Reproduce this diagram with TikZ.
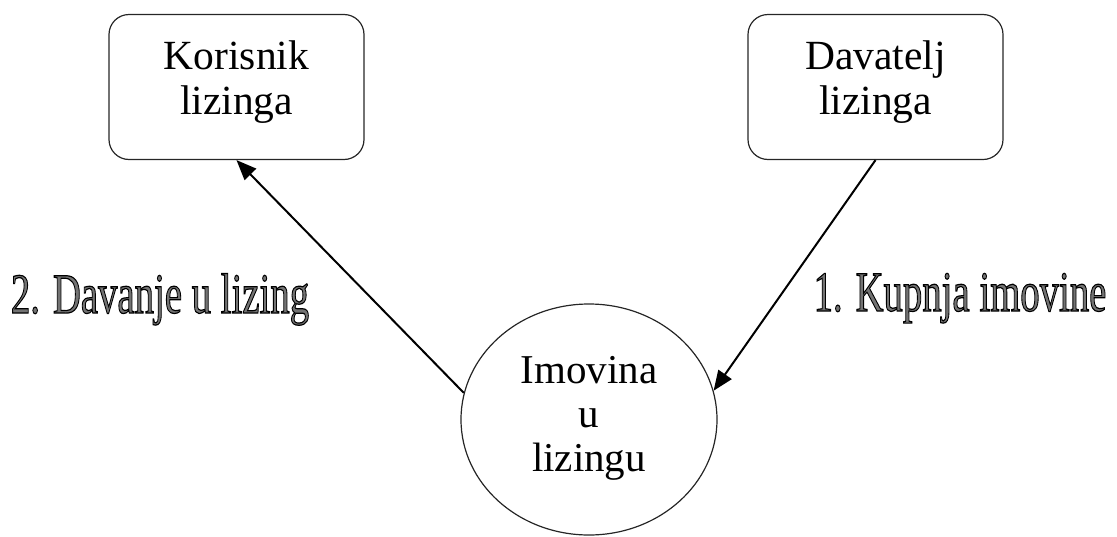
\documentclass[tikz,border=0pt]{standalone}
\usepackage{fontspec}
\setmainfont{Liberation Serif}
\usetikzlibrary{arrows.meta,shapes.geometric}
\newcommand\outlinedtext[1]{{\color[gray]{0.45}\special{pdf:code q 2 Tr 1.2 w 0 G}#1\special{pdf:code Q}}}
\tikzset{
  boxnode/.style={draw=black!85, line width=1.2pt, rounded corners=20pt, minimum width=255pt, minimum height=145pt, align=center, font=\fontsize{41.5}{45}\selectfont, text depth=18pt},
  ellnode/.style={draw=black!85, line width=1.2pt, ellipse, inner sep=0pt, minimum width=256pt, minimum height=231pt, align=center, font=\fontsize{41}{44}\selectfont, text depth=12pt},
  arr/.style={line width=2pt, -{Triangle[length=20pt,width=16pt]}},
  lbl/.style={anchor=base, font=\fontsize{57}{60}\selectfont, xscale=0.68, inner sep=0pt}
}
\begin{document}
\begin{tikzpicture}[x=1pt,y=-1pt]
\useasboundingbox (0,0) rectangle (1117,536);
\node[boxnode] (kor) at (236.5,87) {Korisnik\\lizinga};
\node[boxnode] (dav) at (875.5,87) {Davatelj\\lizinga};
\node[ellnode] (imo) at (589,419.5) {Imovina\\u\\lizingu};
\draw[arr] (imo.168) -- (kor.south);
\draw[arr] (dav.south) -- (imo.13);
\node[lbl] (l2) at (160,313) {\outlinedtext{2. Davanje u lizing}};
\node[lbl] (l1) at (960,311) {\outlinedtext{1. Kupnja imovine}};
\end{tikzpicture}
\end{document}
